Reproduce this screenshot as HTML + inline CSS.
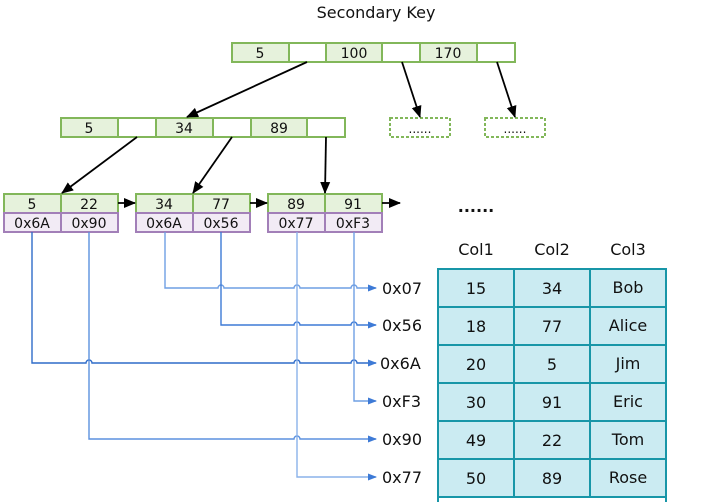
<!DOCTYPE html>
<html><head><meta charset="utf-8"><style>
body{margin:0;background:#fff}
svg{display:block}
text{font-family:"DejaVu Sans","Liberation Sans",sans-serif;fill:#111}
</style></head><body>
<svg width="710" height="502" viewBox="0 0 710 502" xmlns="http://www.w3.org/2000/svg">
<defs>
<marker id="ak" markerWidth="12" markerHeight="12" refX="11" refY="6" orient="auto" markerUnits="userSpaceOnUse"><path d="M0,1 L12,6 L0,11 z" fill="#000"/></marker>
<marker id="ab" markerWidth="9" markerHeight="9" refX="8" refY="4.5" orient="auto" markerUnits="userSpaceOnUse"><path d="M0,1 L9,4.5 L0,8 z" fill="#3d7ad6"/></marker>
</defs>
<text x="376" y="18" font-size="16" text-anchor="middle">Secondary Key</text>
<g stroke="#82b75a" stroke-width="2">
<rect x="232" y="43" width="57" height="19" fill="#e6f2dc"/><rect x="289" y="43" width="37" height="19" fill="#fff"/>
<rect x="326" y="43" width="56" height="19" fill="#e6f2dc"/><rect x="382" y="43" width="38" height="19" fill="#fff"/>
<rect x="420" y="43" width="57" height="19" fill="#e6f2dc"/><rect x="477" y="43" width="38" height="19" fill="#fff"/>
<rect x="61" y="118" width="57" height="19" fill="#e6f2dc"/><rect x="118" y="118" width="38" height="19" fill="#fff"/>
<rect x="156" y="118" width="57" height="19" fill="#e6f2dc"/><rect x="213" y="118" width="38" height="19" fill="#fff"/>
<rect x="251" y="118" width="56" height="19" fill="#e6f2dc"/><rect x="307" y="118" width="38" height="19" fill="#fff"/>
<rect x="390" y="118" width="60" height="19" fill="#fff" stroke-dasharray="3,2"/>
<rect x="485" y="118" width="60" height="19" fill="#fff" stroke-dasharray="3,2"/>
<rect x="4" y="194" width="57" height="19" fill="#e6f2dc"/><rect x="61" y="194" width="57" height="19" fill="#e6f2dc"/>
<rect x="136" y="194" width="57" height="19" fill="#e6f2dc"/><rect x="193" y="194" width="57" height="19" fill="#e6f2dc"/>
<rect x="268" y="194" width="57" height="19" fill="#e6f2dc"/><rect x="325" y="194" width="57" height="19" fill="#e6f2dc"/>
</g>
<g stroke="#a27fb8" stroke-width="2" fill="#f2ebf5">
<rect x="4" y="213" width="57" height="19"/><rect x="61" y="213" width="57" height="19"/>
<rect x="136" y="213" width="57" height="19"/><rect x="193" y="213" width="57" height="19"/>
<rect x="268" y="213" width="57" height="19"/><rect x="325" y="213" width="57" height="19"/>
</g>
<g font-size="14" text-anchor="middle">
<text x="260" y="58">5</text><text x="354" y="58">100</text><text x="448" y="58">170</text>
<text x="89" y="133">5</text><text x="184" y="133">34</text><text x="279" y="133">89</text>
<text x="420" y="133" font-size="12">......</text><text x="515" y="133" font-size="12">......</text>
<text x="32" y="209">5</text><text x="89" y="209">22</text><text x="164" y="209">34</text><text x="221" y="209">77</text><text x="296" y="209">89</text><text x="353" y="209">91</text>
<text x="32" y="228">0x6A</text><text x="89" y="228">0x90</text><text x="164" y="228">0x6A</text><text x="221" y="228">0x56</text><text x="296" y="228">0x77</text><text x="353" y="228">0xF3</text>
</g>
<g stroke="#000" stroke-width="1.8" marker-end="url(#ak)">
<line x1="307" y1="62" x2="187" y2="117"/>
<line x1="402" y1="62" x2="420" y2="117"/>
<line x1="497" y1="62" x2="515" y2="117"/>
<line x1="137" y1="137" x2="62" y2="193"/>
<line x1="232" y1="137" x2="193" y2="193"/>
<line x1="326" y1="137" x2="325" y2="193"/>
<line x1="118" y1="203" x2="135" y2="203"/>
<line x1="250" y1="203" x2="267" y2="203"/>
<line x1="382" y1="203" x2="400" y2="203"/>
</g>
<text x="476" y="212" font-size="16" font-weight="bold" text-anchor="middle">......</text>
<g fill="none" stroke-width="1.4" marker-end="url(#ab)">
<path d="M165,232 V288 H218 a3,3 0 0 1 6,0 H294 a3,3 0 0 1 6,0 H351 a3,3 0 0 1 6,0 H376" stroke="#6f9fe3"/>
<path d="M221,232 V325 H294 a3,3 0 0 1 6,0 H351 a3,3 0 0 1 6,0 H376" stroke="#3d7ad6"/>
<path d="M32,232 V363 H86 a3,3 0 0 1 6,0 H294 a3,3 0 0 1 6,0 H351 a3,3 0 0 1 6,0 H376" stroke="#2f6cc9"/>
<path d="M354,232 V401 H376" stroke="#6f9fe3"/>
<path d="M89,232 V439 H294 a3,3 0 0 1 6,0 H376" stroke="#5b91df"/>
<path d="M297,232 V477 H376" stroke="#8ab2ea"/>
</g>
<g font-size="16">
<text x="382" y="294">0x07</text><text x="382" y="331">0x56</text><text x="380" y="369">0x6A</text>
<text x="382" y="407">0xF3</text><text x="382" y="445">0x90</text><text x="382" y="483">0x77</text>
</g>
<g font-size="16" text-anchor="middle">
<text x="476" y="255">Col1</text><text x="552" y="255">Col2</text><text x="628" y="255">Col3</text>
</g>
<g stroke="#1896a8" stroke-width="2" fill="#cbebf2">
<rect x="438" y="269" width="76" height="38"/><rect x="514" y="269" width="76" height="38"/><rect x="590" y="269" width="76" height="38"/>
<rect x="438" y="307" width="76" height="38"/><rect x="514" y="307" width="76" height="38"/><rect x="590" y="307" width="76" height="38"/>
<rect x="438" y="345" width="76" height="38"/><rect x="514" y="345" width="76" height="38"/><rect x="590" y="345" width="76" height="38"/>
<rect x="438" y="383" width="76" height="38"/><rect x="514" y="383" width="76" height="38"/><rect x="590" y="383" width="76" height="38"/>
<rect x="438" y="421" width="76" height="38"/><rect x="514" y="421" width="76" height="38"/><rect x="590" y="421" width="76" height="38"/>
<rect x="438" y="459" width="76" height="38"/><rect x="514" y="459" width="76" height="38"/><rect x="590" y="459" width="76" height="38"/>
<rect x="438" y="497" width="228" height="10" fill="#fff"/>
</g>
<g font-size="16" text-anchor="middle">
<text x="476" y="294">15</text><text x="552" y="294">34</text><text x="628" y="293">Bob</text>
<text x="476" y="332">18</text><text x="552" y="332">77</text><text x="628" y="331">Alice</text>
<text x="476" y="370">20</text><text x="552" y="370">5</text><text x="628" y="369">Jim</text>
<text x="476" y="408">30</text><text x="552" y="408">91</text><text x="628" y="407">Eric</text>
<text x="476" y="446">49</text><text x="552" y="446">22</text><text x="628" y="445">Tom</text>
<text x="476" y="484">50</text><text x="552" y="484">89</text><text x="628" y="483">Rose</text>
</g>
</svg>
</body></html>
